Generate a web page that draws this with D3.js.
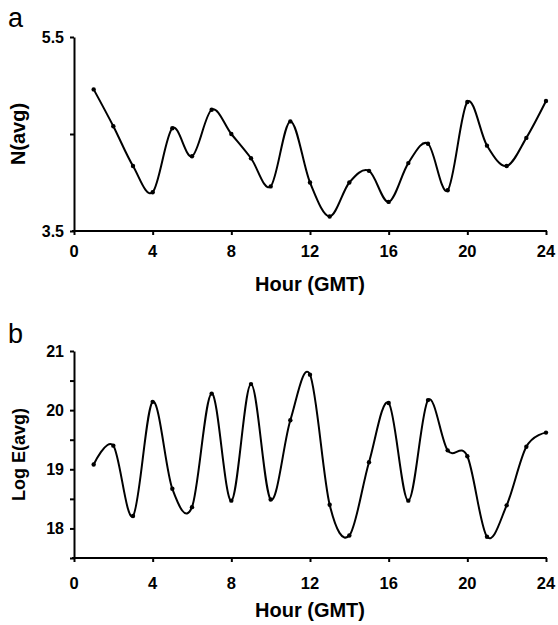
<!DOCTYPE html>
<html>
<head>
<meta charset="utf-8">
<script src="https://cdn.jsdelivr.net/npm/d3@7"></script>
<style>
  html, body { margin: 0; padding: 0; background: #fff; }
  svg { display: block; font-family: "Liberation Sans", Arial, Helvetica, sans-serif; }
</style>
</head>
<body>
<svg id="chart" width="558" height="625"></svg>
<script>
const hours = [1,2,3,4,5,6,7,8,9,10,11,12,13,14,15,16,17,18,19,20,21,22,23,24];
const nAvg = [4.96,4.58,4.17,3.90,4.56,4.27,4.75,4.50,4.25,3.96,4.63,4.00,3.65,4.00,4.12,3.80,4.20,4.40,3.92,4.83,4.38,4.17,4.46,4.84];
const logEAvg = [19.08,19.40,18.21,20.14,18.67,18.36,20.28,18.47,20.44,18.49,19.83,20.60,18.40,17.88,19.12,20.12,18.47,20.17,19.32,19.22,17.86,18.39,19.38,19.62];
const xTicks = [0,4,8,12,16,20,24];
const nTicks = [3.5,4.5,5.5];
const nTickLabels = ["3.5","","5.5"];
const eTicks = [17.5,18,18.5,19,19.5,20,20.5,21];
const eTickLabels = ["","18","","19","","20","","21"];

const svg = d3.select("#chart");

function panel(opts) {
  const x = d3.scaleLinear().domain([0,24]).range([74,546]);
  const y = d3.scaleLinear().domain(opts.domain).range([opts.bottom, opts.top]);
  const g = svg.append("g");

  // panel letter
  g.append("text").attr("x", 8).attr("y", opts.letterY)
    .attr("font-size", 27).attr("fill", "#000").text(opts.letter);

  // x axis
  const xa = g.append("g").attr("transform", `translate(0,${opts.bottom})`)
    .call(d3.axisBottom(x).tickValues(xTicks).tickSize(4).tickSizeOuter(0).tickFormat(""));
  xa.selectAll("path,line").attr("stroke", "#000").attr("stroke-width", 2);
  xa.select(".domain").attr("d", `M72,0H547`);
  g.selectAll(null).data(xTicks).enter().append("text")
    .attr("x", d => x(d)).attr("y", opts.bottom + opts.xLabOff)
    .attr("text-anchor", "middle").attr("font-size", 16.5).attr("font-weight", "bold")
    .text(d => d);
  g.append("text").attr("x", 310).attr("y", opts.bottom + opts.xTitleOff)
    .attr("text-anchor", "middle").attr("font-size", 20).attr("font-weight", "bold")
    .text("Hour (GMT)");

  // y axis
  const ya = g.append("g").attr("transform", "translate(74,0)")
    .call(d3.axisLeft(y).tickValues(opts.ticks).tickSize(4).tickSizeOuter(0).tickFormat(""));
  ya.selectAll("path,line").attr("stroke", "#000").attr("stroke-width", 2);
  g.selectAll(null).data(opts.ticks).enter().append("text")
    .attr("x", 64).attr("y", d => y(d) + 5.5)
    .attr("text-anchor", "end").attr("font-size", 16).attr("font-weight", "bold")
    .text((d,i) => opts.tickLabels[i]);
  g.append("text")
    .attr("transform", `translate(25,${(opts.top + opts.bottom)/2}) rotate(-90)`)
    .attr("text-anchor", "middle").attr("font-size", opts.titleSize).attr("font-weight", "bold")
    .text(opts.title);

  // line
  const line = d3.line().x((d,i) => x(hours[i])).y(d => y(d)).curve(d3.curveCardinal.tension(0));
  g.append("path").datum(opts.values).attr("d", line)
    .attr("fill", "none").attr("stroke", "#000").attr("stroke-width", 2);
  g.selectAll(null).data(opts.values).enter().append("circle")
    .attr("cx", (d,i) => x(hours[i])).attr("cy", d => y(d)).attr("r", 2.2).attr("fill", "#000");
}

panel({letter: "a", letterY: 27, domain: [3.5,5.5], top: 37, bottom: 231,
  ticks: nTicks, tickLabels: nTickLabels, title: "N(avg)", titleSize: 20,
  values: nAvg, xLabOff: 26, xTitleOff: 60});
panel({letter: "b", letterY: 343, domain: [17.5,21], top: 351, bottom: 558,
  ticks: eTicks, tickLabels: eTickLabels, title: "Log E(avg)", titleSize: 18,
  values: logEAvg, xLabOff: 31, xTitleOff: 59});
</script>
</body>
</html>
